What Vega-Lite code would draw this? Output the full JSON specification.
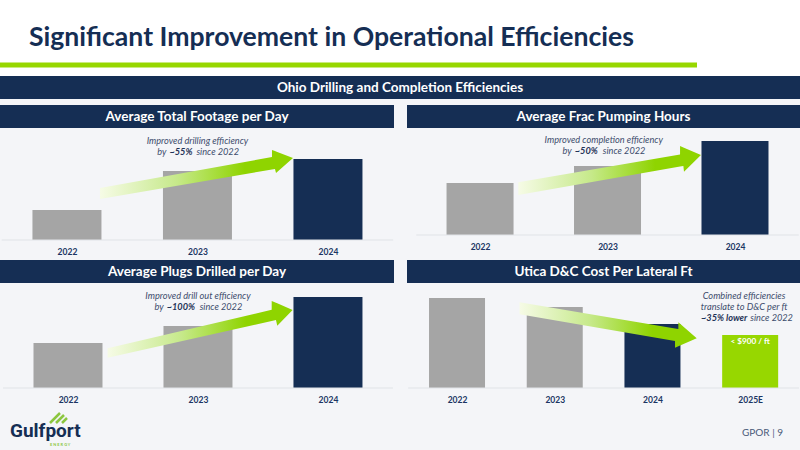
{
  "$schema": "https://vega.github.io/schema/vega-lite/v6.json",
  "description": "Significant Improvement in Operational Efficiencies: four small bar panels on a slide.",
  "background": "#f4f5f8",
  "padding": 0,
  "spacing": 0,
  "config": {
    "font": "Lato",
    "view": {"stroke": null},
    "concat": {"spacing": 0},
    "axisX": {"title": null, "format": "d", "domain": false, "ticks": false, "grid": false, "labelFont": "Lato", "labelFontWeight": "bold", "labelFontSize": 8.5, "labelColor": "#1b3563", "labelPadding": 7, "labelOverlap": false, "labelFlush": false},
    "style": {
      "note": {"font": "Lato", "fontSize": 9.2, "fontStyle": "italic", "color": "#3d4c6c"},
      "noteBold": {"font": "Lato", "fontSize": 9.2, "fontStyle": "italic", "fontWeight": "bold", "color": "#1f3357"},
      "band": {"font": "Lato", "fontSize": 13.5, "fontWeight": "bold", "color": "#ffffff"}
    }
  },
  "vconcat": [
    {
      "width": 800, "height": 76,
      "view": {"fill": "#ffffff", "stroke": null},
      "data": {"values": [{}]},
      "encoding": {
        "x": {"scale": {"domain": [0, 800], "nice": false}, "axis": null},
        "y": {"scale": {"domain": [76, 0], "nice": false}, "axis": null}
      },
      "layer": [
        {"mark": {"type": "text", "text": "Significant Improvement in Operational Efficiencies", "font": "Lato", "fontSize": 26.6, "fontWeight": "bold", "color": "#152e54", "align": "left", "baseline": "middle"},
         "encoding": {"x": {"datum": 29}, "y": {"datum": 38}}},
        {"mark": {"type": "rect", "color": "#97d700"},
         "encoding": {"x": {"datum": 0}, "x2": {"datum": 697}, "y": {"datum": 62.5}, "y2": {"datum": 67.5}}}
      ]
    },
    {
      "width": 800, "height": 23,
      "view": {"fill": "#152e54", "stroke": null},
      "data": {"values": [{}]},
      "mark": {"type": "text", "text": "Ohio Drilling and Completion Efficiencies", "style": "band"}
    },
    {
      "width": 800, "height": 6,
      "data": {"values": [{}]},
      "mark": {"type": "rect", "opacity": 0}
    },
    {
      "spacing": 13,
      "hconcat": [
        {
          "vconcat": [
            {
              "width": 394, "height": 23,
              "view": {"fill": "#152e54", "stroke": null},
              "data": {"values": [{}]},
              "mark": {"type": "text", "text": "Average Total Footage per Day", "style": "band"}
            },
            {
              "width": 394, "height": 112,
              "layer": [
                {
                  "data": {"values": [
                    {"year": 2022, "value": 30, "kind": "earlier"},
                    {"year": 2023, "value": 69, "kind": "earlier"},
                    {"year": 2024, "value": 81, "kind": "latest"}
                  ]},
                  "mark": {"type": "bar", "size": 69},
                  "encoding": {
                    "x": {"field": "year", "type": "quantitative", "scale": {"domain": [2021.487, 2024.506], "nice": false, "padding": 0}, "axis": {"values": [2022, 2023, 2024], "minExtent": 20, "maxExtent": 20}},
                    "y": {"field": "value", "type": "quantitative", "scale": {"domain": [0, 112], "nice": false}, "axis": null},
                    "color": {"field": "kind", "type": "nominal", "legend": null, "scale": {"domain": ["earlier", "latest", "estimate"], "range": ["#a5a5a5", "#152e54", "#97d700"]}}
                  }
                },
                {
                  "data": {"values": [{}]},
                  "mark": {"type": "rule", "color": "#e0e3e7", "strokeWidth": 1},
                  "encoding": {"x": {"datum": 2021.5}, "x2": {"datum": 2024.5}, "y": {"datum": 0}}
                },
                {
                  "data": {"values": [
                    {"t": 2022.253, "top": 52, "bottom": 41},
                    {"t": 2023.571, "top": 83, "bottom": 70.5},
                    {"t": 2023.5711, "top": 90, "bottom": 70.5},
                    {"t": 2023.594, "top": 88.9, "bottom": 71},
                    {"t": 2023.602, "top": 88.5, "bottom": 67},
                    {"t": 2023.732, "top": 82, "bottom": 82}
                  ]},
                  "mark": {"type": "area", "orient": "vertical", "color": {"x1": 0, "y1": 0, "x2": 1, "y2": 0, "gradient": "linear", "stops": [{"offset": 0, "color": "#f6fbe6"}, {"offset": 0.4, "color": "#c6e98a"}, {"offset": 0.75, "color": "#8fd400"}, {"offset": 1, "color": "#8fd400"}]}},
                  "encoding": {"x": {"field": "t", "type": "quantitative"}, "y": {"field": "top", "type": "quantitative"}, "y2": {"field": "bottom"}}
                },
                {"data": {"values": [{}]}, "layer": [
                  {"mark": {"type": "text", "text": "Improved drilling efficiency", "style": "note"}, "encoding": {"x": {"datum": 2023}, "y": {"datum": 99}}},
                  {"mark": {"type": "text", "text": "by", "style": "note", "align": "right", "dx": -3}, "encoding": {"x": {"datum": 2022.785}, "y": {"datum": 88}}},
                  {"mark": {"type": "text", "text": "~55%", "style": "noteBold", "align": "left"}, "encoding": {"x": {"datum": 2022.785}, "y": {"datum": 88}}},
                  {"mark": {"type": "text", "text": "since 2022", "style": "note", "align": "left", "dx": 27}, "encoding": {"x": {"datum": 2022.785}, "y": {"datum": 88}}}
                ]}
              ]
            },
            {
              "width": 394, "height": 23,
              "view": {"fill": "#152e54", "stroke": null},
              "data": {"values": [{}]},
              "mark": {"type": "text", "text": "Average Plugs Drilled per Day", "style": "band"}
            },
            {
              "width": 394, "height": 105,
              "layer": [
                {
                  "data": {"values": [
                    {"year": 2022, "value": 45, "kind": "earlier"},
                    {"year": 2023, "value": 62, "kind": "earlier"},
                    {"year": 2024, "value": 91, "kind": "latest"}
                  ]},
                  "mark": {"type": "bar", "size": 69},
                  "encoding": {
                    "x": {"field": "year", "type": "quantitative", "scale": {"domain": [2021.477, 2024.508], "nice": false, "padding": 0}, "axis": {"values": [2022, 2023, 2024], "minExtent": 20, "maxExtent": 20}},
                    "y": {"field": "value", "type": "quantitative", "scale": {"domain": [0, 105], "nice": false}, "axis": null},
                    "color": {"field": "kind", "type": "nominal", "legend": null, "scale": {"domain": ["earlier", "latest", "estimate"], "range": ["#a5a5a5", "#152e54", "#97d700"]}}
                  }
                },
                {
                  "data": {"values": [{}]},
                  "mark": {"type": "rule", "color": "#e0e3e7", "strokeWidth": 1},
                  "encoding": {"x": {"datum": 2021.5}, "x2": {"datum": 2024.5}, "y": {"datum": 0}}
                },
                {
                  "data": {"values": [
                    {"t": 2022.305, "top": 39.7, "bottom": 30.3},
                    {"t": 2023.567, "top": 78.2, "bottom": 67},
                    {"t": 2023.5671, "top": 87, "bottom": 67},
                    {"t": 2023.6, "top": 85.2, "bottom": 68},
                    {"t": 2023.61, "top": 84.7, "bottom": 62.3},
                    {"t": 2023.728, "top": 78, "bottom": 78}
                  ]},
                  "mark": {"type": "area", "orient": "vertical", "color": {"x1": 0, "y1": 0, "x2": 1, "y2": 0, "gradient": "linear", "stops": [{"offset": 0, "color": "#f6fbe6"}, {"offset": 0.4, "color": "#c6e98a"}, {"offset": 0.75, "color": "#8fd400"}, {"offset": 1, "color": "#8fd400"}]}},
                  "encoding": {"x": {"field": "t", "type": "quantitative"}, "y": {"field": "top", "type": "quantitative"}, "y2": {"field": "bottom"}}
                },
                {"data": {"values": [{}]}, "layer": [
                  {"mark": {"type": "text", "text": "Improved drill out efficiency", "style": "note"}, "encoding": {"x": {"datum": 2023}, "y": {"datum": 92}}},
                  {"mark": {"type": "text", "text": "by", "style": "note", "align": "right", "dx": -3}, "encoding": {"x": {"datum": 2022.759}, "y": {"datum": 81}}},
                  {"mark": {"type": "text", "text": "~100%", "style": "noteBold", "align": "left"}, "encoding": {"x": {"datum": 2022.759}, "y": {"datum": 81}}},
                  {"mark": {"type": "text", "text": "since 2022", "style": "note", "align": "left", "dx": 33}, "encoding": {"x": {"datum": 2022.759}, "y": {"datum": 81}}}
                ]}
              ]
            }
          ]
        },
        {
          "vconcat": [
            {
              "width": 393, "height": 23,
              "view": {"fill": "#152e54", "stroke": null},
              "data": {"values": [{}]},
              "mark": {"type": "text", "text": "Average Frac Pumping Hours", "style": "band"}
            },
            {
              "width": 393, "height": 107,
              "layer": [
                {
                  "data": {"values": [
                    {"year": 2022, "value": 52, "kind": "earlier"},
                    {"year": 2023, "value": 69, "kind": "earlier"},
                    {"year": 2024, "value": 94, "kind": "latest"}
                  ]},
                  "mark": {"type": "bar", "size": 67},
                  "encoding": {
                    "x": {"field": "year", "type": "quantitative", "scale": {"domain": [2021.427, 2024.51], "nice": false, "padding": 0}, "axis": {"values": [2022, 2023, 2024], "minExtent": 25, "maxExtent": 25}},
                    "y": {"field": "value", "type": "quantitative", "scale": {"domain": [0, 107], "nice": false}, "axis": null},
                    "color": {"field": "kind", "type": "nominal", "legend": null, "scale": {"domain": ["earlier", "latest", "estimate"], "range": ["#a5a5a5", "#152e54", "#97d700"]}}
                  }
                },
                {
                  "data": {"values": [{}]},
                  "mark": {"type": "rule", "color": "#e0e3e7", "strokeWidth": 1},
                  "encoding": {"x": {"datum": 2021.5}, "x2": {"datum": 2024.5}, "y": {"datum": 0}}
                },
                {
                  "data": {"values": [
                    {"t": 2022.3, "top": 52.7, "bottom": 40},
                    {"t": 2023.569, "top": 80.4, "bottom": 68.4},
                    {"t": 2023.5691, "top": 89, "bottom": 68.4},
                    {"t": 2023.595, "top": 87.6, "bottom": 69},
                    {"t": 2023.6, "top": 87.3, "bottom": 63.3},
                    {"t": 2023.733, "top": 80, "bottom": 80}
                  ]},
                  "mark": {"type": "area", "orient": "vertical", "color": {"x1": 0, "y1": 0, "x2": 1, "y2": 0, "gradient": "linear", "stops": [{"offset": 0, "color": "#f6fbe6"}, {"offset": 0.4, "color": "#c6e98a"}, {"offset": 0.75, "color": "#8fd400"}, {"offset": 1, "color": "#8fd400"}]}},
                  "encoding": {"x": {"field": "t", "type": "quantitative"}, "y": {"field": "top", "type": "quantitative"}, "y2": {"field": "bottom"}}
                },
                {"data": {"values": [{}]}, "layer": [
                  {"mark": {"type": "text", "text": "Improved completion efficiency", "style": "note"}, "encoding": {"x": {"datum": 2022.97}, "y": {"datum": 95}}},
                  {"mark": {"type": "text", "text": "by", "style": "note", "align": "right", "dx": -3}, "encoding": {"x": {"datum": 2022.743}, "y": {"datum": 84}}},
                  {"mark": {"type": "text", "text": "~50%", "style": "noteBold", "align": "left"}, "encoding": {"x": {"datum": 2022.743}, "y": {"datum": 84}}},
                  {"mark": {"type": "text", "text": "since 2022", "style": "note", "align": "left", "dx": 28}, "encoding": {"x": {"datum": 2022.743}, "y": {"datum": 84}}}
                ]}
              ]
            },
            {
              "width": 393, "height": 23,
              "view": {"fill": "#152e54", "stroke": null},
              "data": {"values": [{}]},
              "mark": {"type": "text", "text": "Utica D&C Cost Per Lateral Ft", "style": "band"}
            },
            {
              "width": 393, "height": 105,
              "layer": [
                {
                  "data": {"values": [
                    {"year": 2022, "value": 90, "kind": "earlier"},
                    {"year": 2023, "value": 81, "kind": "earlier"},
                    {"year": 2024, "value": 64, "kind": "latest"},
                    {"year": 2025, "value": 53, "kind": "estimate"}
                  ]},
                  "mark": {"type": "bar", "size": 56},
                  "encoding": {
                    "x": {"field": "year", "type": "quantitative", "scale": {"domain": [2021.488, 2025.51], "nice": false, "padding": 0}, "axis": {"values": [2022, 2023, 2024, 2025], "labelExpr": "datum.value === 2025 ? '2025E' : format(datum.value, 'd')", "minExtent": 20, "maxExtent": 20}},
                    "y": {"field": "value", "type": "quantitative", "scale": {"domain": [0, 105], "nice": false}, "axis": null},
                    "color": {"field": "kind", "type": "nominal", "legend": null, "scale": {"domain": ["earlier", "latest", "estimate"], "range": ["#a5a5a5", "#152e54", "#97d700"]}}
                  }
                },
                {
                  "data": {"values": [{}]},
                  "mark": {"type": "rule", "color": "#e0e3e7", "strokeWidth": 1},
                  "encoding": {"x": {"datum": 2021.5}, "x2": {"datum": 2025.5}, "y": {"datum": 0}}
                },
                {
                  "data": {"values": [
                    {"t": 2022.64, "top": 85.7, "bottom": 73.7},
                    {"t": 2024.231, "top": 59.6, "bottom": 47},
                    {"t": 2024.2311, "top": 59.6, "bottom": 40.3},
                    {"t": 2024.265, "top": 59, "bottom": 41.7},
                    {"t": 2024.2651, "top": 65.7, "bottom": 41.7},
                    {"t": 2024.453, "top": 49.7, "bottom": 49.7}
                  ]},
                  "mark": {"type": "area", "orient": "vertical", "color": {"x1": 0, "y1": 0, "x2": 1, "y2": 0, "gradient": "linear", "stops": [{"offset": 0, "color": "#f6fbe6"}, {"offset": 0.4, "color": "#c6e98a"}, {"offset": 0.75, "color": "#8fd400"}, {"offset": 1, "color": "#8fd400"}]}},
                  "encoding": {"x": {"field": "t", "type": "quantitative"}, "y": {"field": "top", "type": "quantitative"}, "y2": {"field": "bottom"}}
                },
                {"data": {"values": [{}]}, "layer": [
                  {"mark": {"type": "text", "text": "Combined efficiencies", "style": "note"}, "encoding": {"x": {"datum": 2024.938}, "y": {"datum": 92}}},
                  {"mark": {"type": "text", "text": "translate to D&C per ft", "style": "note"}, "encoding": {"x": {"datum": 2024.938}, "y": {"datum": 81}}},
                  {"mark": {"type": "text", "text": "~35% lower", "style": "noteBold", "align": "right"}, "encoding": {"x": {"datum": 2024.971}, "y": {"datum": 70}}},
                  {"mark": {"type": "text", "text": "since 2022", "style": "note", "align": "left", "dx": 3}, "encoding": {"x": {"datum": 2024.971}, "y": {"datum": 70}}},
                  {"mark": {"type": "text", "text": "< $900 / ft", "font": "Lato", "fontSize": 8.2, "fontWeight": "bold", "color": "#ffffff"}, "encoding": {"x": {"datum": 2025}, "y": {"datum": 46}}}
                ]}
              ]
            }
          ]
        }
      ]
    },
    {
      "width": 800, "height": 42,
      "data": {"values": [{}]},
      "encoding": {
        "x": {"scale": {"domain": [0, 800], "nice": false}, "axis": null},
        "y": {"scale": {"domain": [450, 408], "nice": false}, "axis": null}
      },
      "layer": [
        {"mark": {"type": "text", "text": "GPOR | 9", "font": "Lato", "fontSize": 10, "color": "#4a5a78", "align": "right"}, "encoding": {"x": {"datum": 783}, "y": {"datum": 433}}},
        {"mark": {"type": "text", "text": "Gulfport", "font": "Roboto", "fontSize": 19, "fontWeight": "bold", "color": "#152e54", "align": "left", "baseline": "alphabetic"}, "encoding": {"x": {"datum": 10}, "y": {"datum": 437}}},
        {"mark": {"type": "text", "text": "E N E R G Y", "font": "Lato", "fontSize": 4, "fontWeight": "bold", "color": "#8cc63f", "align": "left", "baseline": "middle"}, "encoding": {"x": {"datum": 50}, "y": {"datum": 444.5}}},
        {"mark": {"type": "rule", "color": "#8cc63f", "strokeWidth": 2.5}, "encoding": {"x": {"datum": 50}, "x2": {"datum": 60}, "y": {"datum": 423}, "y2": {"datum": 413}}},
        {"mark": {"type": "rule", "color": "#8cc63f", "strokeWidth": 2.5}, "encoding": {"x": {"datum": 56}, "x2": {"datum": 64}, "y": {"datum": 423}, "y2": {"datum": 415}}},
        {"mark": {"type": "rule", "color": "#8cc63f", "strokeWidth": 2.5}, "encoding": {"x": {"datum": 62}, "x2": {"datum": 67}, "y": {"datum": 423}, "y2": {"datum": 418}}}
      ]
    }
  ]
}
